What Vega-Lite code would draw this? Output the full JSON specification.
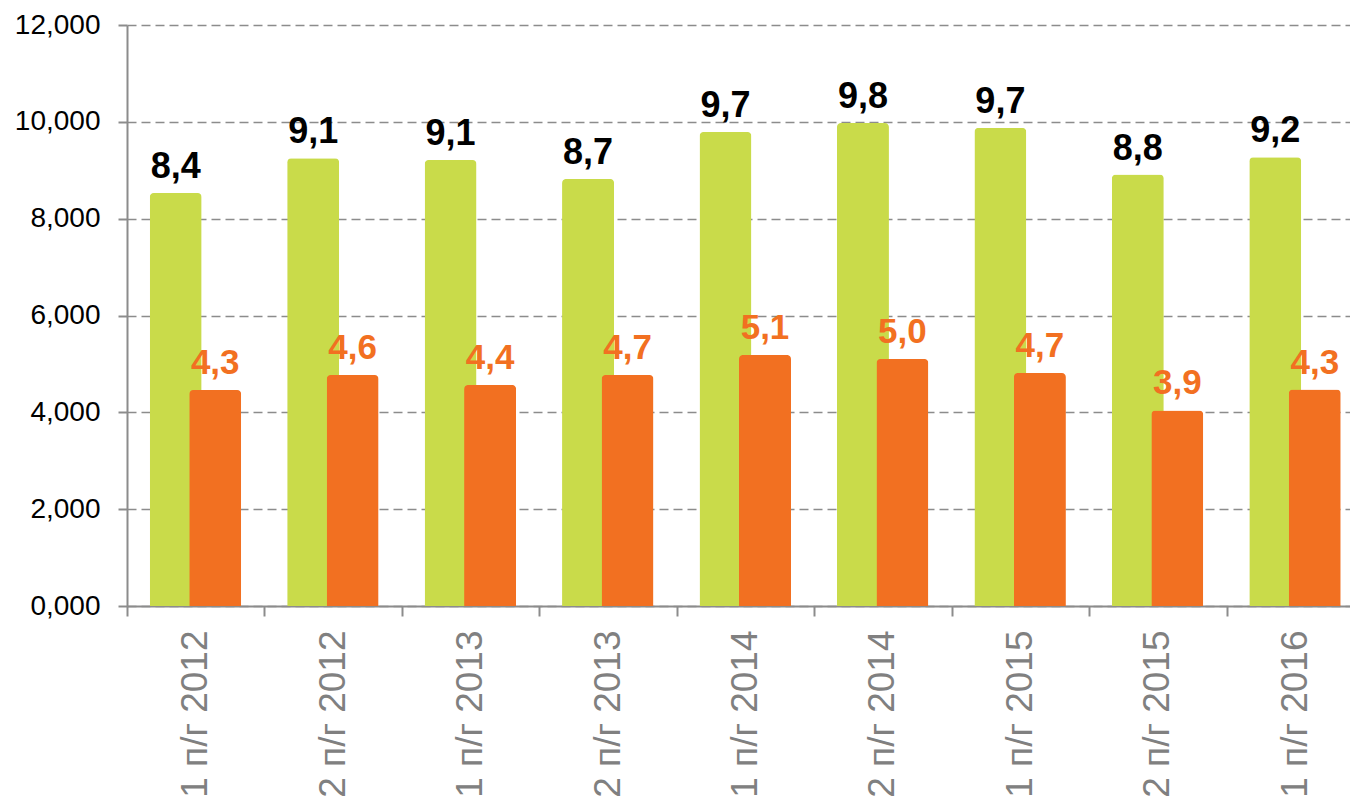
{
  "$schema": "https://vega.github.io/schema/vega-lite/v6.json",
  "autosize": {"type": "none"},
  "padding": {"left": 127, "top": 25, "right": 0, "bottom": 190},
  "width": 1223,
  "height": 581,
  "background": "white",
  "config": {
    "view": {"stroke": null},
    "font": "Liberation Sans"
  },
  "data": {
    "values": [
      {"period": "1 п/г 2012", "total": 8530, "totalLabel": "8,4", "part": 4460, "partLabel": "4,3"},
      {"period": "2 п/г 2012", "total": 9250, "totalLabel": "9,1", "part": 4770, "partLabel": "4,6"},
      {"period": "1 п/г 2013", "total": 9210, "totalLabel": "9,1", "part": 4565, "partLabel": "4,4"},
      {"period": "2 п/г 2013", "total": 8820, "totalLabel": "8,7", "part": 4770, "partLabel": "4,7"},
      {"period": "1 п/г 2014", "total": 9790, "totalLabel": "9,7", "part": 5185, "partLabel": "5,1"},
      {"period": "2 п/г 2014", "total": 9975, "totalLabel": "9,8", "part": 5100, "partLabel": "5,0"},
      {"period": "1 п/г 2015", "total": 9875, "totalLabel": "9,7", "part": 4810, "partLabel": "4,7"},
      {"period": "2 п/г 2015", "total": 8910, "totalLabel": "8,8", "part": 4040, "partLabel": "3,9"},
      {"period": "1 п/г 2016", "total": 9270, "totalLabel": "9,2", "part": 4470, "partLabel": "4,3"}
    ]
  },
  "encoding": {
    "x": {
      "field": "period",
      "type": "nominal",
      "sort": null,
      "scale": {"range": [0, 1237], "paddingInner": 0, "paddingOuter": 0},
      "axis": {
        "title": null,
        "labelAngle": -90,
        "labelAlign": "right",
        "labelBaseline": "middle",
        "labelFontSize": 37,
        "labelColor": "#808080",
        "labelFont": "Liberation Sans",
        "labelPadding": 14,
        "tickBand": "extent",
        "tickSize": 10,
        "tickColor": "#8c8c8c",
        "tickWidth": 2,
        "domainColor": "#8c8c8c",
        "domainWidth": 2,
        "grid": false,
        "labelOverlap": false
      }
    }
  },
  "layer": [
    {
      "mark": {"type": "bar", "width": 52, "xOffset": -20, "color": "#C9DB4A", "cornerRadiusTopLeft": 4, "cornerRadiusTopRight": 4},
      "encoding": {
        "y": {
          "field": "total",
          "type": "quantitative",
          "scale": {"domain": [0, 12000], "nice": false},
          "axis": {
            "title": null,
            "values": [0, 2000, 4000, 6000, 8000, 10000, 12000],
            "labelExpr": "datum.value == 0 ? '0,000' : format(datum.value, ',')",
            "labelFontSize": 28,
            "labelColor": "#000000",
            "labelFont": "Liberation Sans",
            "labelPadding": 18,
            "tickSize": 9,
            "tickColor": "#8c8c8c",
            "tickWidth": 2,
            "domainColor": "#8c8c8c",
            "domainWidth": 2,
            "grid": true,
            "gridColor": "#8c8c8c",
            "gridWidth": 1.5,
            "gridDash": [9, 5]
          }
        }
      }
    },
    {
      "mark": {"type": "bar", "width": 52, "xOffset": 19.5, "color": "#F27021", "cornerRadiusTopLeft": 4, "cornerRadiusTopRight": 4},
      "encoding": {
        "y": {"field": "part", "type": "quantitative"}
      }
    },
    {
      "mark": {"type": "text", "xOffset": -20, "dy": -15, "baseline": "alphabetic", "align": "center", "fontSize": 36, "fontWeight": "bold", "color": "#000000", "font": "Liberation Sans"},
      "encoding": {
        "y": {"field": "total", "type": "quantitative"},
        "text": {"field": "totalLabel"}
      }
    },
    {
      "mark": {"type": "text", "xOffset": 19.5, "dy": -16, "baseline": "alphabetic", "align": "center", "fontSize": 35, "fontWeight": "bold", "color": "#F27021", "font": "Liberation Sans"},
      "encoding": {
        "y": {"field": "part", "type": "quantitative"},
        "text": {"field": "partLabel"}
      }
    }
  ]
}
